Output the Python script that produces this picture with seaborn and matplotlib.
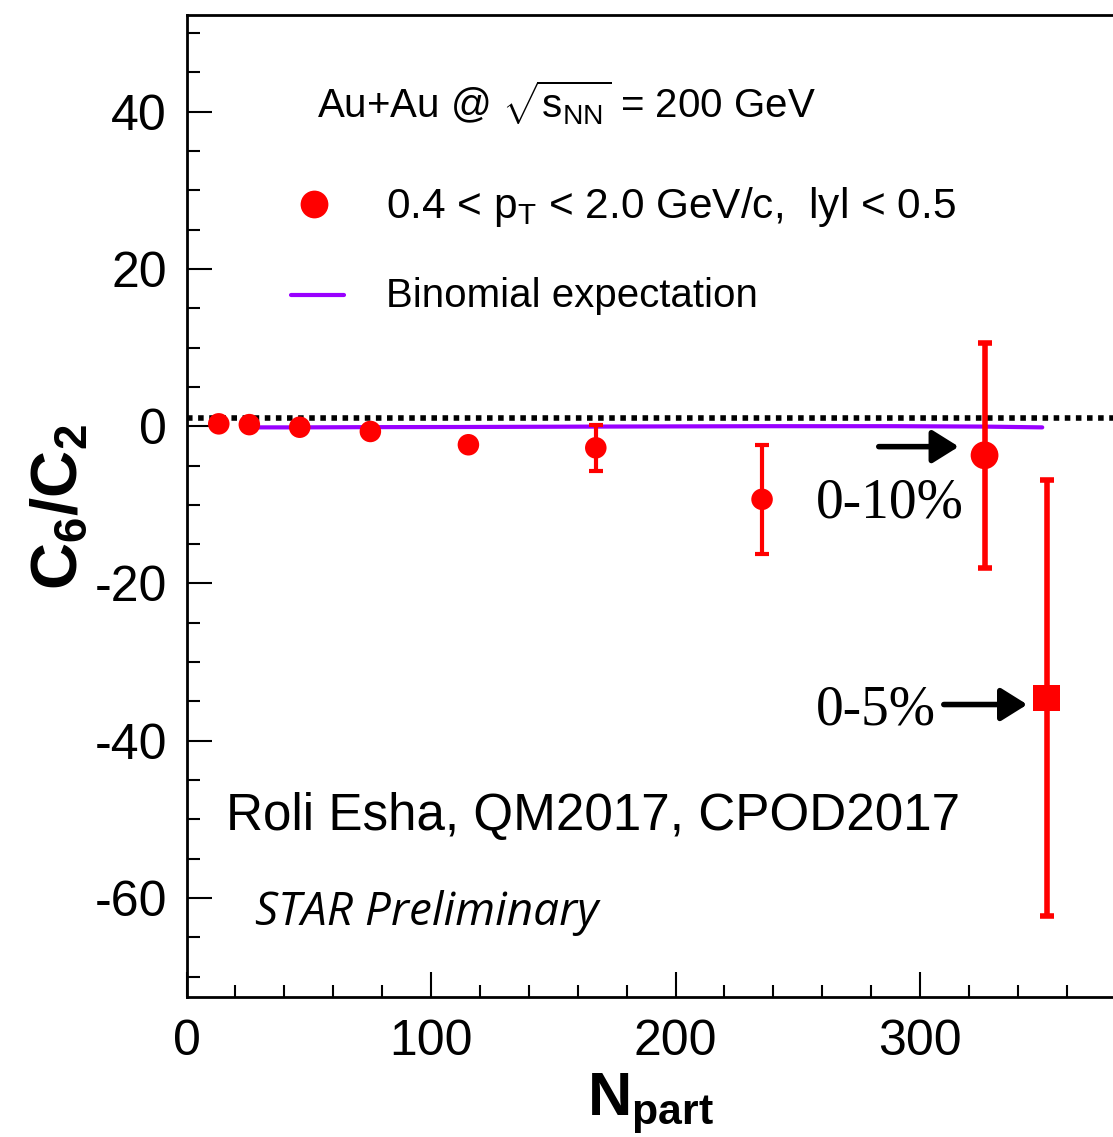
import numpy as np
import pandas as pd
import matplotlib
matplotlib.use("Agg")
import matplotlib.pyplot as plt
import seaborn as sns
from matplotlib.ticker import MultipleLocator

# ---- data ----
npart = [13.2, 25.7, 46.3, 75.2, 115.3, 167.4, 235.4, 326.4]
c6c2 = [0.3, 0.2, -0.13, -0.67, -2.36, -2.75, -9.3, -3.7]
c6c2_err = [0.0, 0.0, 0.0, 0.0, 0.0, 2.9, 6.9, 14.3]
npart_05 = [351.8]
c6c2_05 = [-34.6]
c6c2_05_err = [27.7]
binom_x = [25.7, 46.3, 75.2, 115.3, 167.4, 235.4, 290.0, 326.4, 350.0]
binom_y = [-0.15, -0.15, -0.12, -0.1, -0.05, 0.0, 0.0, -0.05, -0.15]

sns.set_style("ticks")
plt.rcParams['font.family'] = ['Liberation Sans', 'DejaVu Sans']
plt.rcParams['mathtext.fontset'] = 'custom'
plt.rcParams['mathtext.rm'] = 'Liberation Sans'
plt.rcParams['mathtext.it'] = 'Liberation Sans:italic'
plt.rcParams['mathtext.bf'] = 'Liberation Sans:bold'
plt.rcParams['axes.unicode_minus'] = False
for k in ['text.color', 'axes.labelcolor', 'xtick.color', 'ytick.color', 'axes.edgecolor']:
    plt.rcParams[k] = 'black'

W, H = 1113, 1137
fig = plt.figure(figsize=(W / 100, H / 100), dpi=100)
x0, x1 = 0, 395
axw = (x1 - x0) * 2.445
ax = fig.add_axes([186.5 / W, (H - 997) / H, axw / W, (997 - 15) / H])
ax.set_xlim(x0, x1)
ax.set_ylim(-72.6, 52.3)

# dotted reference at 1
ax.axhline(1.0, color='black', lw=4, ls=(0, (1, 1)), zorder=1)

# binomial expectation
sns.lineplot(x=binom_x, y=binom_y, ax=ax, color='#9900ff', lw=3, zorder=2, legend=False)

# data points
df = pd.DataFrame({'npart': npart, 'c6c2': c6c2, 'err': c6c2_err})
ax.errorbar(df['npart'][:7], df['c6c2'][:7], yerr=df['err'][:7], fmt='none',
            ecolor='red', elinewidth=3, capsize=5, capthick=3, zorder=3)
ax.errorbar(df['npart'][7:], df['c6c2'][7:], yerr=df['err'][7:], fmt='none',
            ecolor='red', elinewidth=4, capsize=5, capthick=4, zorder=3)
sns.scatterplot(data=df.iloc[:7], x='npart', y='c6c2', ax=ax, color='red', s=15.5 ** 2,
                edgecolor='none', zorder=4, legend=False)
sns.scatterplot(data=df.iloc[7:], x='npart', y='c6c2', ax=ax, color='red', s=20 ** 2,
                edgecolor='none', zorder=4, legend=False)
ax.errorbar(npart_05, c6c2_05, yerr=c6c2_05_err, fmt='none', ecolor='red',
            elinewidth=4, capsize=5, capthick=4, zorder=3)
sns.scatterplot(x=npart_05, y=c6c2_05, ax=ax, color='red', marker='s', s=19 ** 2,
                edgecolor='none', zorder=4, legend=False)

# axes styling
for s in ['left', 'bottom', 'top']:
    ax.spines[s].set_linewidth(2)
    ax.spines[s].set_color('black')
ax.spines['right'].set_visible(False)
ax.xaxis.set_major_locator(MultipleLocator(100))
ax.xaxis.set_minor_locator(MultipleLocator(20))
ax.yaxis.set_major_locator(MultipleLocator(20))
ax.yaxis.set_minor_locator(MultipleLocator(5))
ax.tick_params(which='major', direction='in', length=18, width=1.5, labelsize=36, pad=14)
ax.tick_params(which='minor', direction='in', length=9, width=1.5)
ax.tick_params(axis='x', pad=16)
ax.set_xticks([0, 100, 200, 300])
ax.set_yticks([40, 20, 0, -20, -40, -60])

ax.set_xlabel(r'$\mathbf{N_{part}}$', fontsize=44, fontweight='bold')
ax.set_ylabel(r'$\mathbf{C_{6}/C_{2}}$', fontsize=47, fontweight='bold')
ax.xaxis.set_label_coords((650 - 186.5) / axw, -(1072 - 997) / (997 - 15))
ax.yaxis.set_label_coords(-(186.5 - 90) / axw, (997 - 507) / (997 - 15))

# texts
ax.text(53.2, 39.2, r'Au+Au @ $\sqrt{\mathrm{s}_{\rm NN}}$ = 200 GeV', fontsize=29, va='baseline')
ax.plot([52], [28.3], 'o', color='red', ms=20, mec='none')
ax.text(81.5, 26.5, r'0.4 < p$_{\rm T}$ < 2.0 GeV/c,  lyl < 0.5', fontsize=30.5, va='baseline')
ax.plot([42.6, 64.3], [16.7, 16.7], color='#9900ff', lw=3)
ax.text(81.5, 15.1, 'Binomial expectation', fontsize=29, va='baseline')
ax.text(16, -51.3, 'Roli Esha, QM2017, CPOD2017', fontsize=36.8, va='baseline')
ax.text(28.2, -63.4, 'STAR Preliminary', fontsize=33, va='baseline',
        family=['Open Sans', 'DejaVu Sans'], style='italic')
ax.text(257.5, -11.6, '0-10%', fontsize=40, va='baseline', family=['Liberation Serif'])
ax.text(257.5, -37.9, '0-5%', fontsize=40, va='baseline', family=['Liberation Serif'])
ax.annotate('', xy=(317.0, -2.6), xytext=(282.0, -2.6),
            arrowprops=dict(arrowstyle='-|>,head_length=1.6,head_width=1.0', color='black', lw=4))
ax.annotate('', xy=(345.0, -35.4), xytext=(308.6, -35.4),
            arrowprops=dict(arrowstyle='-|>,head_length=1.6,head_width=1.0', color='black', lw=4))

fig.savefig('out.png', dpi=100)
